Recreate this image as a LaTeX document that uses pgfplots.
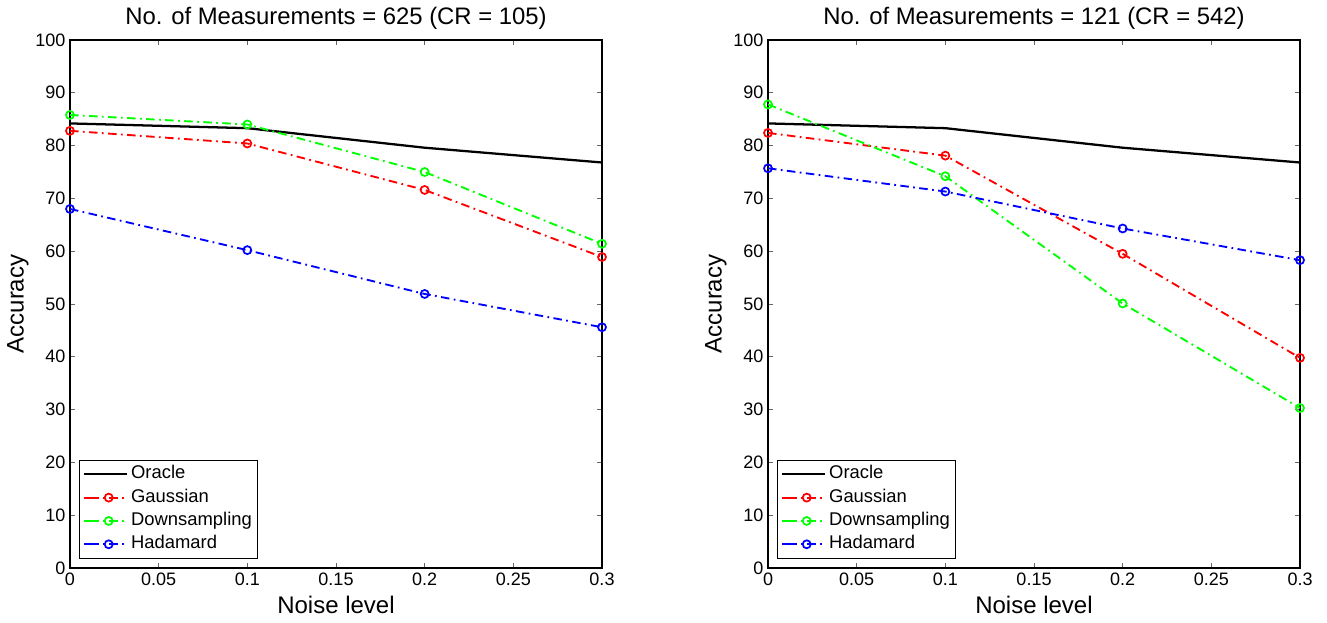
\documentclass[border=0pt]{standalone}
\usepackage{fontspec}
\setmainfont{Liberation Sans}
\usepackage{pgfplots}
\usepackage{pgfplotstable}
\pgfplotsset{compat=1.18}

% noise level vs accuracy, one table per panel
\pgfplotstableread{
x   oracle gauss down had
0   84.2   82.8  85.8 68.0
0.1 83.3   80.4  84.0 60.2
0.2 79.6   71.6  75.0 51.9
0.3 76.8   58.9  61.4 45.6
}\leftdata
\pgfplotstableread{
x   oracle gauss down had
0   84.2   82.4  87.8 75.7
0.1 83.3   78.1  74.2 71.3
0.2 79.6   59.5  50.1 64.3
0.3 76.8   39.8  30.3 58.3
}\rightdata

\pgfplotsset{
  accstyle/.style={
    scale only axis, width=399pt, height=396pt,
    xmin=0, xmax=0.3, ymin=0, ymax=100,
    xtick={0,0.05,0.1,0.15,0.2,0.25,0.3},
    ytick={0,10,20,30,40,50,60,70,80,90,100},
    /pgf/number format/assume math mode=true,
    xticklabel style={/pgf/number format/fixed,/pgf/number format/precision=2},
    tick label style={font=\fontsize{13.5}{15}\selectfont},
    label style={font=\fontsize{18}{20}\selectfont},
    title style={font=\fontsize{17.9}{20}\selectfont, at={(axis description cs:0.5,1)}, anchor=south, yshift=-1.5pt},
    xlabel=Noise level, ylabel=Accuracy,
    xlabel style={at={(axis description cs:0.5,-0.07)}, anchor=center},
    ylabel style={at={(axis description cs:-0.098,0.5)}, anchor=center},
    axis line style={line width=0.8pt},
    tick style={black!60, line width=0.7pt},
    major tick length=3.75pt,
    tick align=inside,
    legend cell align=left,
    legend style={at={(0.017,0.017)}, anchor=south west, draw=black, line width=0.8pt,
      nodes={font=\fontsize{13.8}{15}\selectfont, text height=9.5pt, text depth=2.8pt, inner sep=2pt},
      inner sep=2.5pt, row sep=1.2pt},
    legend image code/.code={\path (-4.5pt,0pt) -- (0pt,0pt);
      \draw[mark repeat=2,mark phase=2] plot coordinates {(0pt,0pt)(14pt,0pt)(28pt,0pt)};},
  },
  oracle/.style={black, line width=1.7pt, no marks},
  dd/.style={line width=1.4pt, dash pattern=on 6.4pt off 3.3pt on 1.3pt off 3.3pt,
    mark=o, mark size=3pt, mark options={solid, line width=1.3pt}},
}

\definecolor{mred}{rgb}{1,0,0}
\definecolor{mgreen}{rgb}{0,1,0}
\definecolor{mblue}{rgb}{0,0,1}

\begin{document}
\begin{tikzpicture}
\path[use as bounding box] (-52.5pt,-40.5pt) rectangle (942.75pt,426pt);

\begin{axis}[accstyle, at={(0pt,0pt)}, anchor=south west,
  title={No. of Measurements = 625 (CR = 105)}]
\addplot[oracle] table[x=x,y=oracle] {\leftdata};
\addplot[dd, mred] table[x=x,y=gauss] {\leftdata};
\addplot[dd, mgreen] table[x=x,y=down] {\leftdata};
\addplot[dd, mblue] table[x=x,y=had] {\leftdata};
\legend{Oracle, Gaussian, Downsampling, Hadamard}
\end{axis}

\begin{axis}[accstyle, at={(523.5pt,0pt)}, anchor=south west,
  title={No. of Measurements = 121 (CR = 542)}]
\addplot[oracle] table[x=x,y=oracle] {\rightdata};
\addplot[dd, mred] table[x=x,y=gauss] {\rightdata};
\addplot[dd, mgreen] table[x=x,y=down] {\rightdata};
\addplot[dd, mblue] table[x=x,y=had] {\rightdata};
\legend{Oracle, Gaussian, Downsampling, Hadamard}
\end{axis}
\end{tikzpicture}
\end{document}
